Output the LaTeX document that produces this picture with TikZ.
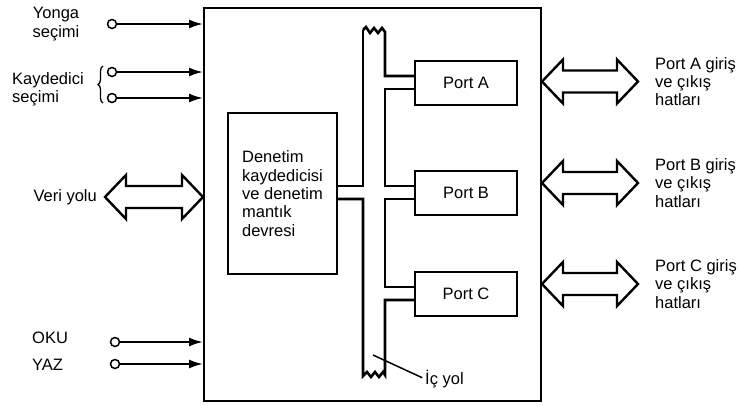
\documentclass[tikz,border=0pt]{standalone}
\usepackage{fontspec}
\setmainfont{Liberation Sans}
\usetikzlibrary{positioning,calc,arrows.meta,decorations.pathreplacing}

\tikzset{
  box/.style={draw, line width=2pt, inner sep=0pt},
  port/.style={box, minimum width=102pt, minimum height=44pt},
  wire/.style={line width=2pt, -{Latex[length=14pt,width=9pt]}},
  pin/.style={circle, draw, line width=1.5pt, fill=white, inner sep=0pt, minimum size=9pt},
  dblarr/.style={draw, line width=2.4pt, fill=white, line join=miter},
  bus/.style={line width=2.6pt, line join=miter},
  lbl/.style={inner sep=0pt, align=left},
}
\newcommand{\dblarrow}[2]{%
  \draw[dblarr] (#1) -- ($(#1)+(21,-22)$) -- ($(#1)+(21,-11)$) -- ($(#2)+(-21,-11)$)
    -- ($(#2)+(-21,-22)$) -- (#2) -- ($(#2)+(-21,22)$) -- ($(#2)+(-21,11)$)
    -- ($(#1)+(21,11)$) -- ($(#1)+(21,22)$) -- cycle;}

\begin{document}
\begin{tikzpicture}[x=1pt, y=-1pt, font=\fontsize{16.5}{18.3}\selectfont]
  \useasboundingbox (0,0) rectangle (741,405);

  \node[box, minimum width=337pt, minimum height=393pt] (chip) at (372.5,204.5) {};
  \node[box, minimum width=109pt, minimum height=161pt, align=left] (ctl) at (282.5,193.5)
    {Denetim\\kaydedicisi\\ve denetim\\mantık\\devresi};
  \node[port] (pA) at (466,83) {Port A};
  \node[port] (pB) at (466,192.5) {Port B};
  \node[port] (pC) at (466,294) {Port C};

  \draw[bus] (363,30) -- (363,186) -- (ctl.east |- 0,186);
  \draw[bus] (ctl.east |- 0,199) -- (363,199) -- (363,376) -- (367,372) -- (371,377) -- (375,372)
    -- (379,377) -- (383,372) -- (385,375) -- (385,300) -- (pC.west |- 0,300);
  \draw[bus] (pC.west |- 0,287) -- (385,287) -- (385,199) -- (pB.west |- 0,199);
  \draw[bus] (pB.west |- 0,186) -- (385,186) -- (385,89) -- (pA.west |- 0,89);
  \draw[bus] (pA.west |- 0,76) -- (385,76) -- (385,32) -- (382,28) -- (378,33) -- (374,28)
    -- (370,33) -- (366,27) -- (363,30);

  \node[lbl, align=center] (yonga) at (56,24) {Yonga\\seçimi};
  \node[lbl, anchor=west] (kayd) at (12,89) {Kaydedici\\seçimi};
  \node[lbl, anchor=east] (veri) at (97,197) {Veri yolu};
  \node[lbl, anchor=west] (oku) at (32,338) {OKU};
  \node[lbl, anchor=west] (yaz) at (32,365) {YAZ};

  \node[pin] (ys) at (112,24) {};
  \node[pin] (k1) at (112,72) {};
  \node[pin] (k2) at (112,98) {};
  \node[pin] (okup) at (115,342) {};
  \node[pin] (yazp) at (115,364) {};
  \foreach \p in {ys,k1,k2,okup,yazp}
    \draw[wire] (\p) -- (\p -| chip.west);
  \draw[decorate, decoration={brace, amplitude=5pt}, line width=1.3pt]
    ($(k2)+(-9,5)$) -- ($(k1)+(-9,-6)$);

  \coordinate (vl) at ($(veri.east)+(8,0)$);
  \coordinate (vr) at (chip.west |- veri);
  \dblarrow{vl}{vr}

  \foreach \n/\y in {A/81.5, B/183, C/284} {
    \node[lbl, anchor=west] (lab\n) at (655,\y) {Port \n{} giriş\\ve çıkış\\hatları};
    \coordinate (r\n) at (chip.east |- lab\n.west);
    \coordinate (t\n) at ($(lab\n.west)+(-17,0)$);
    \dblarrow{r\n}{t\n}
  }

  \node[lbl, anchor=west] (icyol) at (425,379) {İç yol};
  \coordinate (bustag) at (373,355);
  \draw[line width=1.5pt, shorten >=3pt] (bustag) -- (icyol.west);
\end{tikzpicture}
\end{document}
